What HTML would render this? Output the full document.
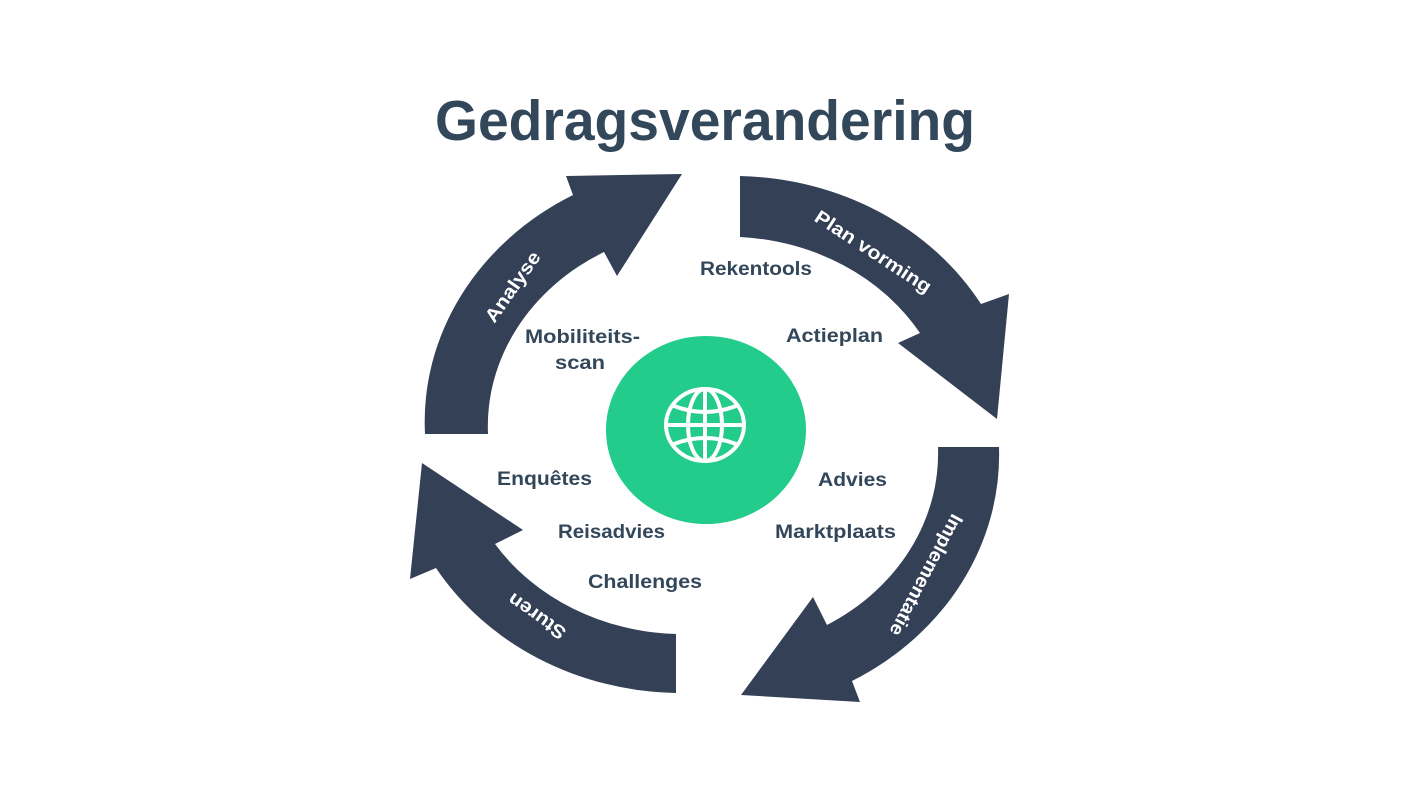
<!DOCTYPE html>
<html><head><meta charset="utf-8"><style>
html,body{margin:0;padding:0;background:#fff;}
svg{display:block;}
text{font-family:"Liberation Sans",sans-serif;}
</style></head><body>
<svg width="1422" height="800" viewBox="0 0 1422 800" xmlns="http://www.w3.org/2000/svg">
<rect width="1422" height="800" fill="#fff"/>
<text x="435" y="140" font-size="57" font-weight="bold" fill="#33475b" textLength="540" lengthAdjust="spacingAndGlyphs">Gedragsverandering</text>
<g fill="#334056">
<path d="M425,434 A287,259 0 0 1 573,195 L566,176 L682,174 L617,276 L604,252 A225,199 0 0 0 488,434 Z"/>
<path d="M740,176 A287,259 0 0 1 981,304 L1009,294 L997,419 L898,343 L920,333 A225,199 0 0 0 740,237 Z"/>
<path d="M999,447 A287,259 0 0 1 852,681 L860,702 L741,695 L813,597 L827,625 A225,199 0 0 0 938,447 Z"/>
<path d="M676,693 A287,259 0 0 1 436,568 L410,579 L422,463 L523,530 L495,544 A225,199 0 0 0 676,634 Z"/>
</g>
<g fill="#fff" font-size="19" font-weight="bold" text-anchor="middle">
<text transform="translate(513,287) rotate(-55)" dy="6" textLength="82" lengthAdjust="spacingAndGlyphs">Analyse</text>
<text transform="translate(873,252) rotate(33)" dy="6" textLength="135" lengthAdjust="spacingAndGlyphs">Plan vorming</text>
<text transform="translate(926,575) rotate(118)" dy="6" textLength="135" lengthAdjust="spacingAndGlyphs">Implementatie</text>
<text transform="translate(537,616) rotate(215)" dy="6" textLength="66" lengthAdjust="spacingAndGlyphs">Sturen</text>
</g>
<ellipse cx="706" cy="430" rx="100" ry="94" fill="#23cc8b"/>
<g fill="none" stroke="#fff" stroke-width="4">
<ellipse cx="705" cy="425" rx="39" ry="36"/>
<ellipse cx="705" cy="425" rx="17" ry="36"/>
<line x1="705" y1="389" x2="705" y2="461"/>
<line x1="666" y1="425" x2="744" y2="425"/>
<path d="M674,406 Q705,418 736,406"/>
<path d="M674,444 Q705,432 736,444"/>
</g>
<g fill="#33475b" font-size="19" font-weight="bold">
<text x="700" y="275" textLength="112" lengthAdjust="spacingAndGlyphs">Rekentools</text>
<text x="525" y="343" textLength="115" lengthAdjust="spacingAndGlyphs">Mobiliteits-</text>
<text x="555" y="369" textLength="50" lengthAdjust="spacingAndGlyphs">scan</text>
<text x="786" y="342" textLength="97" lengthAdjust="spacingAndGlyphs">Actieplan</text>
<text x="497" y="485" textLength="95" lengthAdjust="spacingAndGlyphs">Enquêtes</text>
<text x="818" y="486" textLength="69" lengthAdjust="spacingAndGlyphs">Advies</text>
<text x="558" y="538" textLength="107" lengthAdjust="spacingAndGlyphs">Reisadvies</text>
<text x="775" y="538" textLength="121" lengthAdjust="spacingAndGlyphs">Marktplaats</text>
<text x="588" y="588" textLength="114" lengthAdjust="spacingAndGlyphs">Challenges</text>
</g>
</svg>
</body></html>
